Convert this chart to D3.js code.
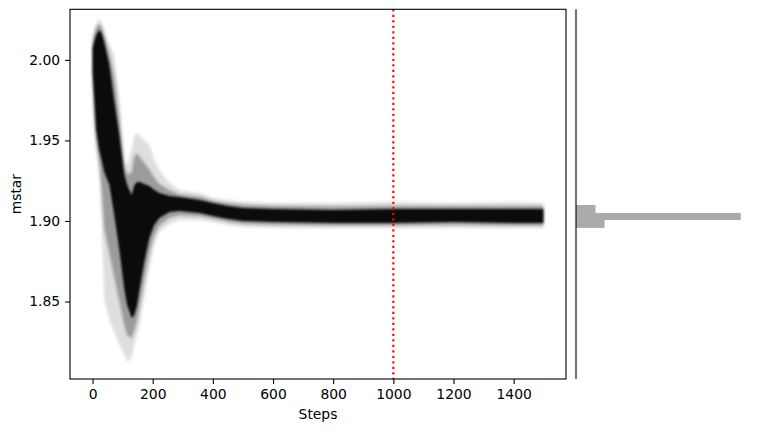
<!DOCTYPE HTML>
<html lang="en">
	<head>
		<meta charset="UTF-8">
		<style>
			body { margin: 0; background: #fff; }
			svg { display: block; }
			.tick text { font: 13.9px "DejaVu Sans", sans-serif; fill: #000; }
			.lbl { font: 13.9px "DejaVu Sans", sans-serif; fill: #000; }
		</style>
	</head>
	<body>
		<script src="https://d3js.org/d3.v7.min.js"></script>
		<script>
			// walker envelopes (mstar vs step)
			var steps   = [0, 5, 12, 22, 30, 39, 56, 72, 89, 106, 115, 130, 139, 148, 156, 172, 189, 205, 222, 256, 289, 356, 400, 450, 500, 600, 800, 1000, 1200, 1400, 1499];
			var outerHi = [2.0123, 2.0185, 2.0223, 2.0260, 2.0235, 2.0185, 2.0092, 2.0030, 1.9751, 1.9379, 1.9348, 1.9441, 1.9534, 1.9546, 1.9534, 1.9503, 1.9472, 1.9379, 1.9317, 1.9236, 1.9192, 1.9174, 1.9143, 1.9130, 1.9118, 1.9112, 1.9112, 1.9118, 1.9112, 1.9118, 1.9112];
			var midHi   = [2.0105, 2.0160, 2.0200, 2.0225, 2.0205, 2.0150, 2.0040, 1.9900, 1.9650, 1.9330, 1.9290, 1.9300, 1.9400, 1.9420, 1.9400, 1.9360, 1.9320, 1.9270, 1.9230, 1.9190, 1.9165, 1.9150, 1.9125, 1.9110, 1.9100, 1.9093, 1.9090, 1.9093, 1.9093, 1.9093, 1.9093];
			var coreHi  = [2.0074, 2.0111, 2.0154, 2.0185, 2.0167, 2.0111, 1.9968, 1.9751, 1.9534, 1.9285, 1.9223, 1.9161, 1.9223, 1.9242, 1.9242, 1.9230, 1.9217, 1.9192, 1.9174, 1.9155, 1.9149, 1.9130, 1.9112, 1.9093, 1.9081, 1.9074, 1.9068, 1.9074, 1.9074, 1.9074, 1.9074];
			var coreLo  = [1.9925, 1.9782, 1.9565, 1.9441, 1.9379, 1.9304, 1.9223, 1.9037, 1.8820, 1.8572, 1.8479, 1.8398, 1.8417, 1.8479, 1.8572, 1.8746, 1.8894, 1.8975, 1.9019, 1.9056, 1.9062, 1.9050, 1.9031, 1.9012, 1.9000, 1.8994, 1.8988, 1.8988, 1.8994, 1.8988, 1.8988];
			var midLo   = [1.9880, 1.9650, 1.9500, 1.9360, 1.9200, 1.8950, 1.8800, 1.8650, 1.8500, 1.8350, 1.8290, 1.8270, 1.8320, 1.8380, 1.8460, 1.8630, 1.8800, 1.8910, 1.8970, 1.9020, 1.9035, 1.9030, 1.9015, 1.8995, 1.8982, 1.8976, 1.8972, 1.8972, 1.8976, 1.8972, 1.8972];
			var outerLo = [1.9844, 1.9565, 1.9441, 1.9285, 1.9006, 1.8510, 1.8386, 1.8311, 1.8230, 1.8168, 1.8125, 1.8150, 1.8230, 1.8292, 1.8355, 1.8522, 1.8708, 1.8851, 1.8932, 1.8981, 1.9006, 1.9006, 1.8994, 1.8975, 1.8963, 1.8957, 1.8957, 1.8957, 1.8957, 1.8957, 1.8957];

			var burnIn = 1000;
			var xTicks = [0, 200, 400, 600, 800, 1000, 1200, 1400];
			var yTicks = [1.85, 1.90, 1.95, 2.00];

			// posterior histogram (after burn-in), horizontal
			var histEdges  = [1.8957, 1.9006, 1.9050, 1.9099];
			var histCounts = [2850, 16450, 1950];

			var width = 759, height = 432
				,m = {left: 70, right: 566, top: 9.3, bottom: 379}
				,h = {left: 576, right: 749};

			var svg = d3.select('body').append('svg').attr('width', width).attr('height', height);

			var x = d3.scaleLinear().domain([-75, 1574]).range([m.left, m.right]);
			var y = d3.scaleLinear().domain([1.8019, 2.0314]).range([m.bottom, m.top]);

			var defs = svg.append('defs');
			defs.append('clipPath').attr('id', 'clip')
				.append('rect').attr('x', m.left).attr('y', m.top)
				.attr('width', m.right - m.left).attr('height', m.bottom - m.top);
			defs.append('filter').attr('id', 'soft').attr('x', '-5%').attr('y', '-5%').attr('width', '110%').attr('height', '110%')
				.append('feGaussianBlur').attr('stdDeviation', 1.6);
			defs.append('filter').attr('id', 'soft2').attr('x', '-5%').attr('y', '-5%').attr('width', '110%').attr('height', '110%')
				.append('feGaussianBlur').attr('stdDeviation', 1.0);

			var idx = d3.range(steps.length);
			var plot = svg.append('g').attr('clip-path', 'url(#clip)');

			function band(lo, hi) {
				return d3.area()
					.x(function(i){ return x(steps[i]); })
					.y0(function(i){ return y(lo[i]); })
					.y1(function(i){ return y(hi[i]); })(idx);
			}

			plot.append('path').attr('d', band(outerLo, outerHi))
				.attr('fill', '#000').attr('fill-opacity', 0.13).attr('filter', 'url(#soft)');
			plot.append('path').attr('d', band(midLo, midHi))
				.attr('fill', '#000').attr('fill-opacity', 0.3).attr('filter', 'url(#soft)');
			plot.append('path').attr('d', band(coreLo, coreHi))
				.attr('fill', '#000').attr('fill-opacity', 0.93).attr('filter', 'url(#soft2)');

			// burn-in marker
			plot.append('line')
				.attr('x1', x(burnIn)).attr('x2', x(burnIn))
				.attr('y1', m.top).attr('y2', m.bottom)
				.attr('stroke', 'red').attr('stroke-width', 2.1)
				.attr('stroke-dasharray', '2.1,3.4');

			// axes
			var xAxis = d3.axisBottom(x).tickValues(xTicks).tickSize(4.9).tickPadding(4.9).tickFormat(d3.format('d'));
			var yAxis = d3.axisLeft(y).tickValues(yTicks).tickSize(4.9).tickPadding(4.9).tickFormat(d3.format('.2f'));

			svg.append('g').attr('transform', 'translate(0,' + m.bottom + ')').call(xAxis)
				.call(function(g){ g.select('.domain').remove(); g.selectAll('line').attr('stroke-width', 1.1); });
			svg.append('g').attr('transform', 'translate(' + m.left + ',0)').call(yAxis)
				.call(function(g){ g.select('.domain').remove(); g.selectAll('line').attr('stroke-width', 1.1); });
			svg.selectAll('.tick text').attr('font-family', null).attr('font-size', null);

			svg.append('rect').attr('x', m.left).attr('y', m.top)
				.attr('width', m.right - m.left).attr('height', m.bottom - m.top)
				.attr('fill', 'none').attr('stroke', '#000').attr('stroke-width', 1.1);

			svg.append('text').attr('class', 'lbl').attr('x', (m.left + m.right) / 2).attr('y', 419)
				.attr('text-anchor', 'middle').text('Steps');
			svg.append('text').attr('class', 'lbl')
				.attr('transform', 'translate(21,' + ((m.top + m.bottom) / 2) + ') rotate(-90)')
				.attr('text-anchor', 'middle').text('mstar');

			// histogram panel
			var hx = d3.scaleLinear().domain([0, d3.max(histCounts) * 1.05]).range([h.left, h.right]);
			svg.append('g').selectAll('rect').data(histCounts).enter().append('rect')
				.attr('x', hx(0))
				.attr('y', function(d, i){ return y(histEdges[i + 1]); })
				.attr('width', function(d){ return hx(d) - hx(0); })
				.attr('height', function(d, i){ return y(histEdges[i]) - y(histEdges[i + 1]); })
				.attr('fill', '#aaaaaa');
			svg.append('line').attr('x1', h.left).attr('x2', h.left)
				.attr('y1', m.top).attr('y2', m.bottom)
				.attr('stroke', '#000').attr('stroke-width', 1.1);
		</script>
	</body>
</html>
